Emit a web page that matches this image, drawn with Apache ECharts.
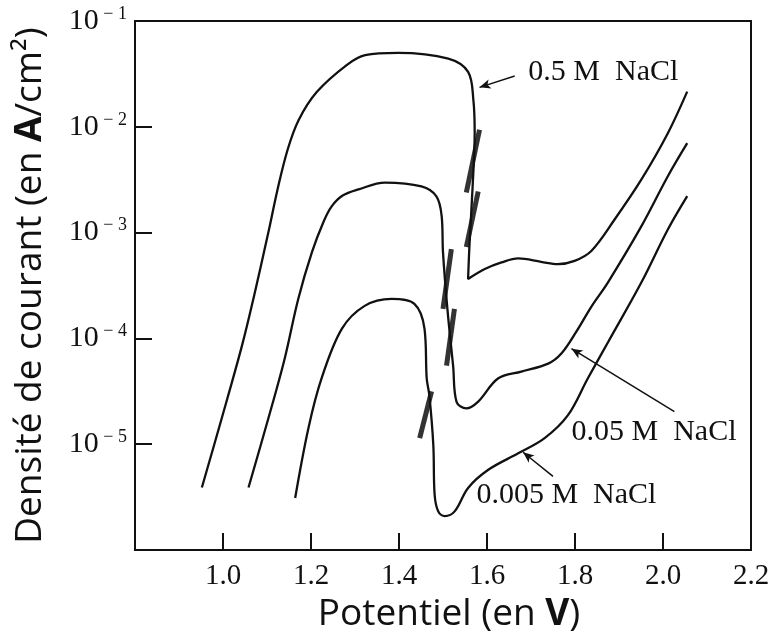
<!DOCTYPE html>
<html><head><meta charset="utf-8">
<script src="https://cdn.jsdelivr.net/npm/echarts@6/dist/echarts.min.js"></script>
<style>html,body{margin:0;padding:0;background:#fff}#c{width:779px;height:638px}</style>
</head><body><div id="c"></div><script>
// Potentiel (V) vs densité de courant (A/cm²)
const xTicks = [0.8, 1.0, 1.2, 1.4, 1.6, 1.8, 2.0, 2.2];
const yDecades = [1e-6, 1e-5, 1e-4, 1e-3, 1e-2, 1e-1];

const curve05 = [
  [0.952, 3.9e-6], [0.997, 1.75e-5], [1.043, 8.5e-5], [1.069, 2.36e-4], [1.103, 1.0e-3],
  [1.124, 2.56e-3], [1.147, 6.1e-3], [1.172, 1.16e-2], [1.213, 2.13e-2], [1.281, 3.83e-2],
  [1.323, 4.75e-2], [1.398, 5.0e-2], [1.512, 4.4e-2], [1.557, 3.3e-2], [1.569, 1.8e-2],
  [1.572, 8.8e-3], [1.567, 2.56e-3], [1.560, 7.4e-4], [1.557, 3.64e-4], [1.595, 4.52e-4],
  [1.633, 5.22e-4], [1.671, 5.7e-4], [1.723, 5.3e-4], [1.761, 5.03e-4], [1.799, 5.4e-4],
  [1.837, 6.7e-4], [1.890, 1.33e-3], [1.951, 3.18e-3], [2.011, 8.7e-3], [2.055, 2.15e-2]
];
const curve005 = [
  [1.058, 3.9e-6], [1.103, 1.75e-5], [1.140, 6.4e-5], [1.171, 2.36e-4], [1.202, 6.5e-4],
  [1.229, 1.28e-3], [1.247, 1.77e-3], [1.272, 2.24e-3], [1.308, 2.56e-3], [1.368, 2.97e-3],
  [1.451, 2.73e-3], [1.485, 2.2e-3], [1.497, 1.43e-3], [1.500, 6.5e-4], [1.510, 1.9e-4],
  [1.523, 5.5e-5], [1.531, 2.5e-5], [1.553, 2.18e-5], [1.580, 2.53e-5], [1.625, 4.18e-5],
  [1.678, 4.86e-5], [1.739, 5.78e-5], [1.769, 7.2e-5], [1.803, 1.16e-4], [1.837, 1.99e-4],
  [1.875, 3.39e-4], [1.951, 1.15e-3], [2.011, 3.41e-3], [2.055, 7.0e-3]
];
const curve0005 = [
  [1.164, 3.1e-6], [1.194, 1.41e-5], [1.224, 4.18e-5], [1.270, 1.23e-4], [1.322, 2.03e-4],
  [1.383, 2.36e-4], [1.435, 2.12e-4], [1.458, 1.23e-4], [1.463, 4.18e-5], [1.469, 2.89e-5],
  [1.478, 9.8e-6], [1.481, 3.33e-6], [1.489, 2.33e-6], [1.504, 2.09e-6], [1.527, 2.33e-6],
  [1.557, 3.86e-6], [1.603, 5.73e-6], [1.671, 8.2e-6], [1.731, 1.14e-5], [1.784, 1.88e-5],
  [1.829, 4.18e-5], [1.875, 9.2e-5], [1.951, 3.39e-4], [2.011, 1.07e-3], [2.055, 2.21e-3]
];
// oscillation bands (noise) on the passivation-breakdown drops
const bands = [
  [[1.583, 9.4e-3], [1.553, 2.39e-3]],
  [[1.580, 2.45e-3], [1.553, 7.3e-4]],
  [[1.519, 6.97e-4], [1.500, 1.9e-4]],
  [[1.526, 1.9e-4], [1.508, 5.53e-5]],
  [[1.474, 3.15e-5], [1.447, 1.14e-5]]
];
const labelNames = ['0.5 M  NaCl', '0.05 M  NaCl', '0.005 M  NaCl'];
const labelAnchors = [[1.694, 3.29e-2], [1.792, 1.30e-5], [1.576, 3.31e-6]];
const arrows = [
  [[1.663, 3.02e-2], [1.583, 2.36e-2]],
  [[2.026, 2.03e-5], [1.792, 8.0e-5]],
  [[1.750, 4.97e-6], [1.682, 8.4e-6]]
];

const INK = '#111';
const SERIF = '"Liberation Serif", "DejaVu Serif", serif';
const SANS = '"Open Sans", "Noto Sans", sans-serif';

const chart = echarts.init(document.getElementById('c'), null, {renderer: 'canvas'});

const series = [curve05, curve005, curve0005].map((d, i) => ({
  type: 'line', data: d, smooth: 0.35, symbol: 'none', silent: true,
  lineStyle: {color: INK, width: 2.3}, z: 3
}));
bands.forEach(b => series.push({
  type: 'line', data: b, symbol: 'none', silent: true,
  lineStyle: {color: '#333', width: 5}, z: 2
}));
series.push({
  type: 'line', data: [], symbol: 'none', silent: true,
  markLine: {
    silent: true, symbol: ['none', 'arrow'], symbolSize: [7, 11], animation: false,
    lineStyle: {color: INK, width: 1.5, type: 'solid'}, label: {show: false},
    data: arrows.map(a => [{coord: a[0]}, {coord: a[1]}])
  },
  markPoint: {
    silent: true, symbol: 'circle', symbolSize: 0, animation: false,
    label: {show: true, position: 'right', distance: 0, color: INK,
      fontFamily: SERIF, fontSize: 30, formatter: p => p.name},
    data: labelAnchors.map((c, i) => ({coord: c, name: labelNames[i]}))
  }
});

chart.setOption({
  animation: false,
  backgroundColor: '#fff',
  grid: {left: 135, right: 28, top: 21, bottom: 88, show: true, borderColor: INK, borderWidth: 2, backgroundColor: 'transparent'},
  xAxis: {
    type: 'value', min: xTicks[0], max: xTicks[xTicks.length - 1], interval: 0.2,
    axisLine: {lineStyle: {color: INK, width: 2}},
    axisTick: {inside: true, length: 17, lineStyle: {color: INK, width: 2}},
    splitLine: {show: false},
    axisLabel: {margin: 12, color: INK, fontFamily: SERIF, fontSize: 29,
      formatter: v => (v < 0.9 ? '' : v.toFixed(1))},
    name: 'Potentiel (en {b|V})', nameLocation: 'middle', nameGap: 39,
    nameTextStyle: {color: INK, fontFamily: SANS, fontSize: 37, padding: [0, 0, 0, 12],
      rich: {b: {fontFamily: SANS, fontSize: 37, fontWeight: 'bold', color: INK}}}
  },
  yAxis: {
    type: 'log', logBase: 10, min: yDecades[0], max: yDecades[yDecades.length - 1],
    axisLine: {lineStyle: {color: INK, width: 2}},
    axisTick: {inside: true, length: 17, lineStyle: {color: INK, width: 2}},
    splitLine: {show: false},
    axisLabel: {margin: 8, color: INK,
      formatter: v => {
        const e = Math.round(Math.log10(v));
        if (e <= -6) return '';
        return '{b|10}{s| \u2212 ' + (-e) + '}';
      },
      rich: {
        b: {fontFamily: SERIF, fontSize: 30, lineHeight: 32, color: INK},
        s: {fontFamily: SERIF, fontSize: 18, lineHeight: 32, verticalAlign: 'top', color: INK}
      }
    },
    name: 'Densité de courant (en {b|A}/cm²)', nameLocation: 'middle', nameGap: 86,
    nameTextStyle: {color: INK, fontFamily: SANS, fontSize: 37,
      rich: {b: {fontFamily: SANS, fontSize: 37, fontWeight: 'bold', color: INK}}}
  },
  series: series
});
</script></body></html>
